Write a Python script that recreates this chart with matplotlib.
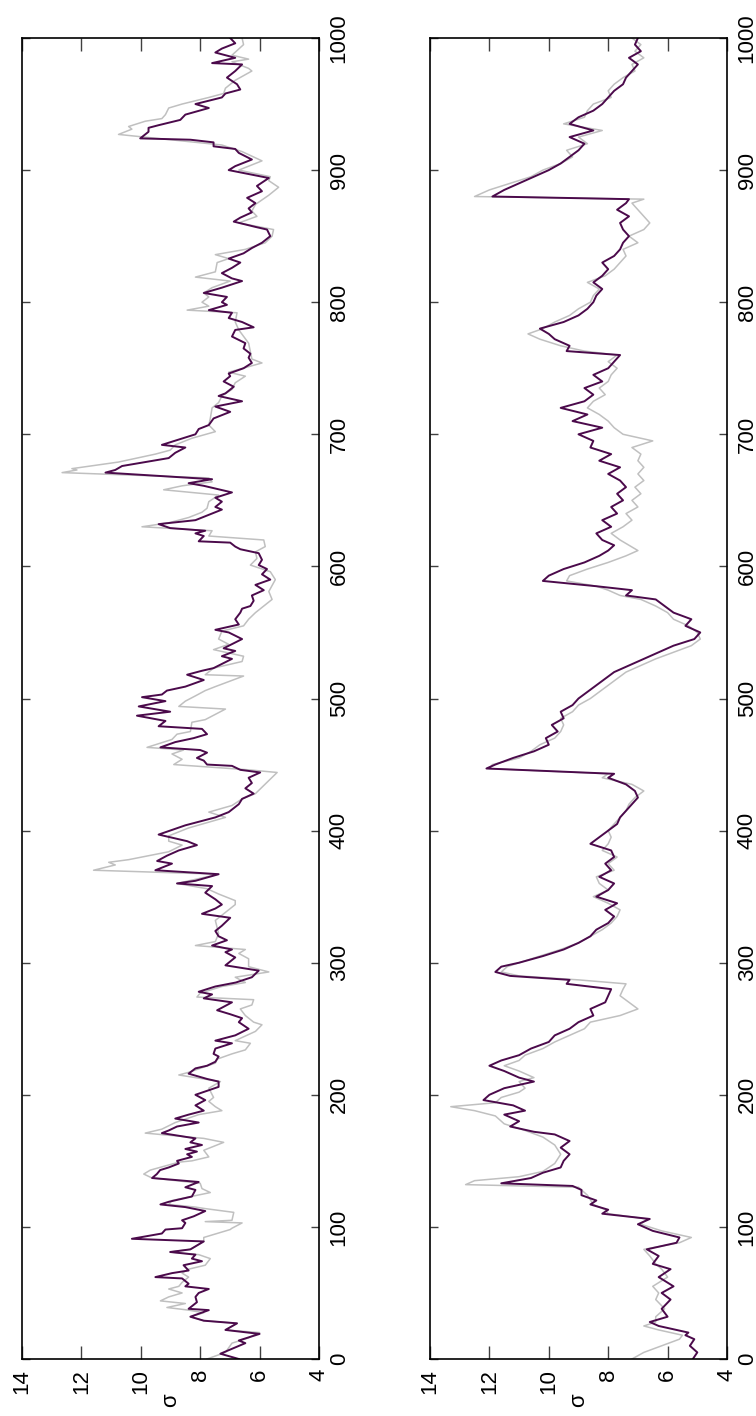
import matplotlib.pyplot as plt

plt.rcParams['font.family'] = ['Liberation Sans', 'DejaVu Sans']

# panel 1: time step and sigma for both runs
t1_dark = [0, 4, 12, 14, 19, 22, 27, 29, 32, 37, 38, 43, 47, 50, 53, 55, 57, 61, 62, 65,
           67, 71, 74, 76, 79, 81, 83, 89, 91, 95, 98, 99, 103, 105, 108, 112, 115, 117, 119, 123,
           128, 130, 134, 137, 140, 143, 145, 148, 150, 153, 155, 157, 159, 162, 164, 167, 169, 171, 173, 176,
           179, 182, 185, 188, 192, 196, 200, 203, 206, 210, 212, 216, 220, 222, 225, 229, 231, 235, 239, 241,
           245, 250, 255, 258, 261, 264, 270, 273, 276, 278, 282, 285, 289, 294, 298, 300, 304, 308, 310, 313,
           317, 320, 324, 328, 334, 337, 341, 344, 348, 353, 358, 360, 362, 367, 370, 375, 377, 381, 385, 389,
           392, 397, 404, 410, 414, 420, 424, 428, 432, 436, 440, 444, 446, 449, 450, 453, 455, 459, 461, 463,
           467, 470, 473, 477, 479, 483, 487, 490, 494, 498, 501, 503, 506, 509, 514, 518, 521, 523, 530, 532,
           536, 538, 545, 550, 552, 556, 560, 565, 568, 570, 574, 578, 582, 586, 590, 594, 598, 601, 605, 610,
           613, 615, 618, 619, 623, 625, 627, 629, 632, 635, 639, 643, 645, 649, 652, 656, 661, 663, 666, 671,
           673, 676, 682, 686, 690, 692, 696, 700, 704, 707, 712, 717, 721, 725, 729, 731, 736, 740, 744, 746,
           750, 754, 758, 761, 765, 769, 774, 779, 781, 785, 788, 792, 794, 798, 800, 804, 807, 811, 816, 818,
           822, 826, 830, 833, 837, 841, 845, 850, 855, 857, 861, 864, 868, 871, 875, 879, 884, 888, 894, 898,
           900, 903, 908, 913, 916, 918, 921, 923, 924, 927, 929, 932, 934, 938, 942, 947, 950, 955, 958, 961,
           965, 970, 975, 980, 981, 985, 989, 992, 996, 1000]
s1_dark = [6.70, 7.32, 6.48, 6.70, 6.00, 7.15, 6.76, 7.88, 8.33, 7.71, 8.39, 8.11, 8.16, 8.05, 7.71, 8.50, 8.39, 8.61, 9.51, 8.95,
           8.39, 8.56, 7.94, 8.28, 8.16, 9.01, 8.33, 7.88, 10.30, 9.29, 9.17, 8.61, 8.50, 8.61, 8.22, 7.83, 8.50, 9.34, 9.06, 8.28,
           8.16, 8.50, 8.05, 9.62, 9.46, 9.35, 9.06, 8.72, 8.78, 8.28, 8.44, 8.11, 8.50, 7.94, 8.33, 8.16, 8.72, 9.29, 9.06, 8.78,
           8.05, 8.84, 8.39, 7.88, 8.16, 7.83, 8.16, 7.77, 7.38, 7.38, 7.77, 8.39, 8.16, 7.77, 7.49, 7.38, 7.55, 7.49, 6.93, 7.49,
           6.82, 6.37, 6.70, 6.59, 6.99, 7.43, 6.93, 7.88, 7.60, 8.05, 7.49, 6.80, 6.26, 6.03, 7.15, 7.04, 6.82, 7.15, 6.93, 7.60,
           7.10, 7.38, 7.49, 7.27, 6.99, 7.94, 7.49, 7.27, 7.49, 7.83, 7.60, 8.78, 8.16, 7.38, 9.51, 8.95, 9.45, 9.12, 8.72, 8.11,
           8.44, 9.40, 8.50, 7.49, 7.04, 6.70, 6.59, 6.20, 6.48, 6.26, 6.37, 5.98, 6.65, 6.93, 7.77, 7.88, 8.11, 7.77, 8.00, 9.34,
           8.84, 8.22, 7.77, 7.94, 9.40, 9.17, 10.13, 9.01, 10.07, 9.17, 9.96, 9.29, 9.12, 8.50, 7.88, 8.44, 7.94, 7.55, 6.93, 7.27,
           6.82, 7.21, 6.59, 7.04, 7.49, 6.70, 6.82, 6.65, 6.59, 6.31, 6.20, 6.26, 5.86, 6.14, 5.64, 5.92, 5.75, 6.03, 5.92, 6.03,
           6.65, 6.82, 6.99, 8.05, 7.88, 8.16, 7.83, 9.01, 9.40, 8.16, 7.71, 7.27, 7.49, 7.27, 7.49, 6.93, 7.88, 8.39, 7.60, 11.19,
           10.86, 10.63, 9.06, 8.84, 8.50, 9.29, 8.72, 8.16, 8.05, 7.71, 7.55, 6.99, 7.49, 6.59, 7.38, 7.15, 6.87, 7.21, 6.99, 7.04,
           6.54, 6.26, 6.37, 6.31, 6.54, 6.48, 6.93, 6.82, 6.20, 6.59, 7.04, 6.93, 7.71, 7.10, 7.27, 7.10, 7.88, 7.27, 6.59, 6.93,
           7.27, 6.93, 6.65, 7.04, 6.54, 6.26, 5.92, 5.64, 5.75, 6.14, 6.87, 6.65, 6.26, 6.37, 6.14, 6.42, 5.92, 6.09, 5.69, 6.59,
           7.04, 6.82, 6.26, 6.70, 6.82, 7.55, 7.55, 8.33, 10.02, 9.85, 9.74, 9.74, 9.40, 8.67, 8.50, 7.71, 8.16, 7.27, 7.15, 6.65,
           6.76, 7.10, 6.82, 6.59, 7.60, 6.82, 7.49, 7.27, 6.82, 6.99]

t1_grey = [0, 5, 12, 16, 19, 20, 22, 27, 29, 32, 35, 37, 39, 42, 44, 47, 50, 53, 55, 58,
           62, 65, 68, 71, 76, 79, 81, 83, 89, 92, 98, 99, 103, 104, 105, 111, 114, 115, 117, 120,
           126, 129, 133, 137, 140, 143, 149, 150, 153, 158, 164, 167, 171, 174, 179, 185, 188, 191, 195, 198,
           205, 210, 215, 217, 224, 227, 231, 234, 239, 241, 248, 253, 255, 260, 265, 268, 272, 274, 277, 282,
           285, 289, 293, 297, 303, 307, 310, 313, 316, 322, 332, 344, 347, 352, 356, 360, 367, 370, 374, 376,
           378, 384, 389, 392, 396, 402, 410, 414, 419, 424, 428, 444, 446, 450, 454, 458, 461, 463, 469, 473,
           475, 482, 484, 492, 494, 498, 502, 506, 509, 517, 518, 523, 528, 532, 537, 541, 545, 551, 555, 560,
           565, 570, 575, 581, 590, 596, 601, 606, 611, 615, 620, 623, 627, 630, 633, 637, 641, 644, 649, 654,
           658, 661, 664, 667, 671, 673, 674, 679, 685, 688, 692, 697, 702, 707, 712, 720, 724, 729, 734, 739,
           744, 747, 754, 757, 769, 779, 785, 792, 794, 797, 800, 804, 807, 811, 816, 819, 823, 830, 833, 836,
           840, 845, 850, 855, 860, 865, 869, 874, 881, 887, 892, 895, 900, 907, 914, 919, 927, 931, 933, 937,
           939, 942, 947, 950, 955, 958, 962, 968, 975, 977, 982, 984, 987, 995, 1000]
s1_grey = [7.77, 7.15, 6.93, 6.37, 6.14, 6.00, 7.15, 6.76, 7.88, 8.33, 7.88, 8.39, 9.12, 8.50, 9.34, 9.06, 8.61, 9.06, 8.72, 8.61,
           8.39, 8.61, 8.39, 7.83, 7.66, 8.05, 9.01, 8.33, 7.88, 7.88, 6.99, 6.93, 6.59, 7.83, 6.93, 6.87, 7.88, 8.16, 9.06, 8.95,
           7.66, 7.94, 8.00, 9.62, 9.90, 9.68, 8.72, 8.28, 7.71, 7.88, 7.21, 7.88, 9.85, 9.29, 8.84, 8.05, 7.27, 7.49, 7.71, 7.55,
           7.71, 7.32, 8.72, 8.39, 7.49, 7.43, 6.93, 6.48, 6.31, 6.82, 6.14, 5.92, 6.20, 6.48, 6.65, 6.26, 6.20, 8.11, 8.00, 7.27,
           6.48, 6.82, 5.69, 6.37, 6.37, 6.70, 6.48, 8.16, 7.49, 7.38, 7.49, 6.82, 6.82, 7.38, 7.77, 8.78, 7.38, 11.59, 10.86, 11.08,
           10.41, 9.06, 8.61, 9.06, 9.06, 8.39, 7.15, 7.71, 6.93, 6.59, 6.14, 5.41, 6.37, 8.89, 8.61, 8.95, 8.56, 9.79, 8.95, 8.78,
           8.33, 8.28, 7.83, 7.15, 8.72, 8.50, 8.16, 7.83, 7.49, 6.54, 7.83, 7.55, 6.59, 6.54, 7.55, 7.04, 7.38, 7.27, 6.54, 6.37,
           6.14, 5.86, 5.58, 5.69, 5.47, 5.64, 6.31, 6.09, 6.14, 5.81, 5.86, 7.71, 7.60, 9.96, 9.06, 8.39, 7.94, 7.77, 7.71, 7.38,
           9.23, 8.61, 7.60, 7.71, 12.65, 12.15, 12.32, 10.75, 9.51, 9.01, 8.84, 8.28, 7.49, 7.71, 7.66, 7.60, 7.38, 7.27, 6.93, 6.82,
           6.48, 7.04, 5.92, 6.26, 6.37, 6.70, 6.82, 6.76, 8.44, 7.71, 7.94, 7.71, 7.88, 7.60, 6.99, 8.16, 7.49, 7.43, 7.04, 7.49,
           6.48, 5.81, 5.58, 5.53, 6.70, 6.09, 6.26, 6.14, 5.69, 5.36, 5.69, 5.64, 6.70, 5.92, 6.59, 7.27, 10.75, 10.30, 10.41, 9.85,
           9.29, 9.17, 9.06, 8.61, 7.71, 7.21, 7.15, 6.82, 6.26, 6.37, 6.93, 6.37, 6.93, 6.54, 6.59]

# panel 2: time step and sigma for both runs
t2_dark = [0, 5, 10, 15, 18, 20, 25, 28, 32, 38, 45, 50, 55, 62, 68, 72, 78, 83, 88, 92,
           97, 102, 106, 110, 113, 117, 120, 124, 128, 131, 133, 137, 141, 145, 150, 155, 160, 165, 170, 172,
           176, 180, 185, 188, 192, 196, 200, 205, 210, 213, 218, 222, 226, 230, 235, 240, 245, 250, 255, 260,
           265, 270, 275, 280, 284, 287, 290, 293, 297, 300, 305, 310, 315, 320, 325, 330, 335, 340, 345, 350,
           355, 360, 365, 370, 375, 380, 385, 390, 395, 400, 405, 410, 415, 420, 425, 430, 435, 440, 443, 447,
           450, 455, 460, 465, 470, 475, 480, 485, 490, 495, 500, 510, 520, 530, 540, 545, 550, 555, 560, 565,
           570, 575, 578, 582, 585, 589, 593, 598, 603, 608, 612, 616, 620, 625, 630, 635, 640, 645, 650, 655,
           660, 665, 670, 675, 680, 685, 690, 695, 700, 705, 710, 715, 720, 725, 730, 735, 740, 745, 750, 755,
           760, 763, 767, 772, 776, 780, 785, 790, 795, 800, 805, 810, 815, 820, 825, 830, 835, 840, 845, 850,
           855, 860, 865, 870, 875, 878, 880, 885, 890, 895, 900, 905, 910, 915, 920, 925, 930, 935, 940, 945,
           950, 955, 960, 965, 970, 975, 980, 985, 990, 995, 1000]
s2_dark = [5.15, 5.0, 5.25, 5.1, 5.4, 5.3, 6.3, 6.6, 6.0, 6.2, 5.9, 6.2, 5.8, 6.3, 5.9, 6.5, 6.3, 6.7, 5.7, 5.6,
           6.5, 7.0, 6.6, 8.2, 8.0, 8.6, 8.4, 8.9, 8.9, 9.2, 11.6, 10.6, 10.2, 9.6, 9.5, 9.3, 9.6, 9.3, 9.8, 10.5,
           11.3, 11.0, 11.5, 10.8, 11.2, 12.2, 12.0, 11.5, 10.5, 11.0, 11.5, 12.0, 11.6, 11.0, 10.6, 10.0, 9.8, 9.3, 9.0, 8.5,
           8.6, 8.1, 8.0, 7.9, 9.4, 9.3, 11.3, 11.8, 11.6, 11.0, 10.2, 9.5, 9.0, 8.6, 8.4, 8.0, 7.8, 8.1, 7.7, 8.4,
           8.0, 7.8, 8.3, 7.9, 8.1, 7.8, 7.9, 8.6, 8.3, 8.0, 7.7, 7.6, 7.4, 7.2, 7.0, 7.1, 7.4, 8.0, 7.8, 12.1,
           11.8, 11.2, 10.5, 10.0, 10.1, 9.7, 9.9, 9.5, 9.6, 9.2, 9.0, 8.4, 7.8, 6.8, 5.8, 5.1, 4.9, 5.4, 5.2, 5.8,
           6.1, 6.4, 7.4, 7.2, 8.4, 10.2, 10.0, 9.5, 8.8, 8.3, 8.0, 7.8, 8.2, 8.4, 7.9, 8.2, 7.7, 7.9, 7.5, 7.7,
           7.4, 7.6, 8.0, 7.6, 8.3, 7.9, 8.6, 8.5, 9.0, 8.2, 9.2, 8.7, 9.6, 8.8, 8.5, 8.8, 8.2, 8.5, 8.0, 7.8,
           7.6, 9.4, 9.3, 9.8, 10.0, 10.3, 9.5, 9.0, 8.7, 8.5, 8.4, 8.2, 8.5, 8.2, 8.0, 8.2, 7.8, 7.6, 7.5, 7.3,
           7.5, 7.6, 7.3, 7.7, 7.4, 7.3, 11.9, 11.5, 11.0, 10.5, 10.0, 9.6, 9.3, 9.0, 8.8, 9.3, 8.5, 9.3, 9.0, 8.5,
           8.2, 8.0, 7.8, 7.5, 7.4, 7.2, 7.0, 7.3, 6.9, 7.1, 7.0]

t2_grey = [0, 5, 10, 15, 18, 22, 25, 28, 32, 38, 45, 50, 55, 62, 68, 72, 78, 83, 88, 92,
           97, 102, 106, 110, 113, 117, 124, 130, 132, 135, 138, 142, 148, 155, 162, 168, 173, 178, 184, 188,
           191, 194, 198, 202, 205, 210, 213, 218, 222, 226, 230, 235, 240, 245, 250, 255, 260, 265, 270,
           275, 280, 284, 287, 290, 293, 297, 300, 305, 310, 315, 320, 325, 330, 335, 340, 345, 350, 355, 360,
           365, 370, 375, 380, 385, 390, 395, 400, 405, 410, 415, 420, 425, 430, 435, 440, 443, 447, 450, 455,
           460, 465, 470, 475, 480, 485, 490, 495, 500, 510, 520, 530, 540, 545, 550, 555, 560, 565, 570, 575,
           578, 582, 585, 589, 593, 598, 603, 608, 612, 616, 620, 625, 630, 635, 640, 645, 650, 655, 660, 665,
           670, 675, 680, 685, 690, 695, 700, 705, 710, 715, 720, 725, 730, 735, 740, 745, 750, 755, 760, 763,
           767, 772, 776, 780, 785, 790, 795, 800, 805, 810, 815, 820, 825, 830, 835, 840, 845, 850, 855, 860,
           865, 870, 875, 878, 880, 885, 890, 895, 900, 905, 910, 915, 920, 925, 930, 935, 940, 945, 950, 955,
           960, 965, 970, 975, 980, 985, 990, 995, 1000]
s2_grey = [7.2, 6.8, 6.2, 5.6, 5.5, 6.3, 6.8, 6.4, 6.4, 6.1, 6.4, 6.3, 6.5, 6.0, 6.2, 6.4, 6.6, 6.8, 5.6, 5.2,
           6.2, 6.9, 6.7, 8.0, 8.1, 8.5, 8.7, 9.0, 12.8, 12.5, 11.0, 10.2, 9.8, 9.6, 9.8, 10.2, 10.8, 11.5, 11.8, 12.5,
           13.3, 11.8, 11.6, 11.0, 10.8, 11.0, 10.5, 11.0, 11.5, 11.0, 10.8, 10.2, 9.8, 9.3, 8.8, 8.6, 7.6, 7.0, 7.3,
           7.6, 7.5, 7.4, 9.0, 11.0, 11.6, 11.4, 11.0, 10.3, 9.6, 9.0, 8.6, 8.2, 7.9, 7.7, 7.6, 8.0, 8.5, 8.0, 8.3,
           8.4, 7.8, 8.0, 7.7, 8.2, 8.0, 7.9, 8.0, 7.8, 7.6, 7.4, 7.3, 7.1, 6.8, 7.2, 8.2, 8.0, 12.0, 11.9, 11.0,
           10.6, 10.3, 9.8, 9.6, 9.5, 9.6, 9.2, 9.0, 8.6, 8.0, 7.4, 6.4, 5.2, 4.9, 5.0, 5.3, 5.8, 6.0, 6.4, 6.9,
           7.6, 8.0, 8.4, 9.4, 9.3, 8.7, 8.0, 7.4, 7.0, 7.3, 7.6, 7.9, 7.5, 7.2, 7.4, 7.0, 7.2, 6.9, 7.1, 6.8,
           7.0, 6.8, 7.0, 6.9, 7.2, 6.5, 7.5, 7.8, 8.0, 8.3, 8.7, 8.5, 8.1, 8.3, 8.0, 7.9, 7.7, 8.0, 7.7, 8.8,
           9.6, 10.3, 10.7, 10.2, 9.8, 9.3, 9.0, 8.6, 8.5, 8.3, 8.7, 8.1, 7.8, 7.6, 7.4, 7.5, 7.0, 7.3, 6.8, 6.6,
           6.8, 7.0, 7.2, 6.8, 12.5, 12.0, 11.3, 10.6, 10.2, 9.6, 9.2, 9.4, 8.7, 9.0, 8.2, 9.5, 8.8, 8.7, 8.5, 7.9,
           8.0, 7.8, 7.5, 7.1, 7.2, 6.8, 7.1, 6.9, 7.2]

dark = '#4b0a4b'
grey = '#c0c0c0'

fig = plt.figure(figsize=(7.56, 14.16), dpi=100)
boxes = [[22 / 756, 57 / 1416, 297 / 756, 1321 / 1416],
         [430 / 756, 57 / 1416, 297 / 756, 1321 / 1416]]
runs = [(t1_grey, s1_grey, t1_dark, s1_dark), (t2_grey, s2_grey, t2_dark, s2_dark)]

for box, (tg, sg, td, sd) in zip(boxes, runs):
    ax = fig.add_axes(box)
    ax.plot(sg, tg, color=grey, lw=1.1)
    ax.plot(sd, td, color=dark, lw=1.4)
    ax.set_xlim(14, 4)
    ax.set_ylim(0, 1000)
    ax.set_xticks(range(4, 15, 2))
    ax.set_yticks(range(0, 1001, 100))
    ax.yaxis.tick_right()
    ax.tick_params(axis='both', direction='in', top=True, bottom=True, left=True, right=True,
                   labelsize=16, color='#404040', width=1)
    ax.tick_params(axis='x', length=9.5, pad=7)
    ax.tick_params(axis='y', length=6, pad=7)
    for lab in ax.get_xticklabels() + ax.get_yticklabels():
        lab.set_rotation(90)
    for lab in ax.get_yticklabels():
        lab.set_va('center')
    ax.set_xlabel('σ', fontsize=16, rotation=90, labelpad=0)
    for sp in ax.spines.values():
        sp.set_linewidth(1.2)

fig.savefig('out.png', dpi=100)
